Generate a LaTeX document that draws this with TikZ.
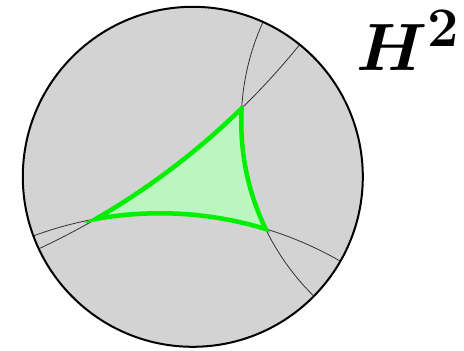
\documentclass[tikz,border=0pt]{standalone}
\begin{document}
\begin{tikzpicture}[x=1pt,y=1pt]
\definecolor{diskgray}{RGB}{211,211,211}
\definecolor{trigreen}{RGB}{0,238,0}
\definecolor{trifill}{RGB}{187,245,192}
\tikzset{geod/.style={line width=0.8pt, black!80},
         tri/.style={fill=trifill, draw=trigreen, line width=4.5pt},
         bigmath/.style={font={\fontsize{24.88}{24.88}\selectfont\boldmath}, scale=2.69}}
\useasboundingbox (0,0) rectangle (464,351);
\begin{scope}[shift={(192.8,174.2)}, x=170pt, y=170pt]
  \fill[diskgray] (0,0) circle (1);
  \begin{scope}
    \clip (0,0) circle (1);
    \draw[geod] (-2.7344,3.4970) circle (4.3250);
    \draw[geod] (1.71845,0.31842) circle (1.43334);
    \draw[geod] (-0.19332,-2.35097) circle (2.13645);
  \end{scope}
  \coordinate (A) at (0.2876,0.4029);
  \coordinate (B) at (-0.5712,-0.2482);
  \coordinate (C) at (0.4288,-0.3071);
  \filldraw[tri] (A) arc[start angle=-45.674, end angle=-59.986, radius=4.3250]
     arc[start angle=100.188, end angle=73.071, radius=2.13645]
     arc[start angle=205.876, end angle=176.621, radius=1.43334] -- cycle;
  \draw[line width=2pt] (0,0) circle (1);
\end{scope}
\node[bigmath, anchor=base west, inner sep=0pt] (lab) at (356,280) {$H^2$};
\end{tikzpicture}
\end{document}
